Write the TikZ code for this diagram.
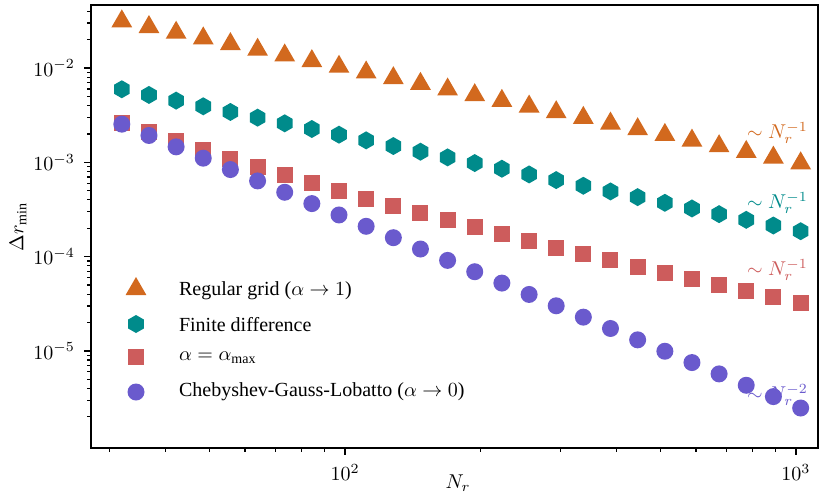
\documentclass[tikz,border=0pt]{standalone}
\usepackage{fontspec}
\setmainfont{Liberation Serif}
\usetikzlibrary{shapes.geometric}
\definecolor{chocolate}{HTML}{D2691E}
\definecolor{darkcyan}{HTML}{008B8B}
\definecolor{indianred}{HTML}{CD5C5C}
\definecolor{slateblue}{HTML}{6A5ACD}
\tikzset{
  tri/.style = {regular polygon, regular polygon sides=3, fill=chocolate, inner sep=0pt, minimum size=12pt},
  hex/.style = {regular polygon, regular polygon sides=6, shape border rotate=30, fill=darkcyan, inner sep=0pt, minimum size=9pt},
  sq/.style = {rectangle, fill=indianred, inner sep=0pt, minimum size=8pt},
  dot/.style = {circle, fill=slateblue, inner sep=0pt, minimum size=8.5pt},
  lbl/.style = {anchor=west, font=\fontsize{10}{12}\selectfont},
}
\begin{document}
\begin{tikzpicture}[x = .5pt, y = .5pt,
    declare function = {lg(\v) = ln(\v)/ln(10); px(\n) = 451*lg(\n) - 557; py(\l) = 615.6 + 94.3*\l;}]
    \useasboundingbox (0,0) rectangle (830,495);
    % data
    \foreach \k in {0,...,25} {
      \pgfmathsetmacro\N{32*2^(\k/5)}
      \pgfmathsetmacro\xx{px(\N)}
      \pgfmathsetmacro\ya{py(-lg(\N))}
      \pgfmathsetmacro\yb{py(lg(0.19) - lg(\N))}
      \pgfmathsetmacro\yc{py(lg(0.031*\N + 1.67) - 2*lg(\N))}
      \pgfmathsetmacro\yd{py(lg(2.6) - 2*lg(\N))}
      \node[tri] (a\k) at (\xx,\ya) {};
      \node[hex] (b\k) at (\xx,\yb) {};
      \node[sq] (c\k) at (\xx,\yc) {};
      \node[dot] (d\k) at (\xx,\yd) {};
    }
    % axes
    \draw[line width=0.8] (91,47) rectangle (818,490);
    \foreach \n in {30,40,...,90,200,300,...,900}
      \draw[line width=0.6] ({px(\n)},47) -- ++(0,-4);
    \foreach \n/\e in {100/2,1000/3} {
      \draw[line width=0.8] ({px(\n)},47) -- ++(0,-7);
      \node[anchor=north, font=\fontsize{10}{12}\selectfont] (x\e) at ({px(\n)},38) {$10^{\e}$};
    }
    \foreach \e in {-2,-3,-4,-5} {
      \draw[line width=0.8] (91,{py(\e)}) -- ++(-7,0);
      \node[anchor=east, font=\fontsize{10}{12}\selectfont] (y\e) at (82,{py(\e)}) {$10^{\e}$};
    }
    \foreach \e in {-2,-3,-4,-5,-6}
      \foreach \m in {2,...,9} {
        \pgfmathsetmacro\yy{py(\e + lg(\m))}
        \ifdim\yy pt>47pt \ifdim\yy pt<490pt
          \draw[line width=0.6] (91,\yy) -- ++(-4,0);
        \fi\fi
      }
    \node[font=\fontsize{10}{12}\selectfont] (xlab) at (458,12) {$N_r$};
    \node[rotate=90, font=\fontsize{10}{12}\selectfont] (ylab) at (18,268) {$\Delta r_{\min}$};
    % slopes
    \node[lbl, text=chocolate] (sa) at (740,362) {$\sim N_r^{-1}$};
    \node[lbl, text=darkcyan] (sb) at (740,292) {$\sim N_r^{-1}$};
    \node[lbl, text=indianred] (sc) at (740,225) {$\sim N_r^{-1}$};
    \node[lbl, text=slateblue] (sd) at (740,100) {$\sim N_r^{-2}$};
    % legend
    \node[tri] (la) at (136,206) {};
    \node[hex] (lb) at (136,171) {};
    \node[sq] (lc) at (136,138) {};
    \node[dot] (ld) at (136,103) {};
    \node[lbl] at (172,204) {Regular grid ($\alpha \to 1$)};
    \node[lbl] at (172,170) {Finite difference};
    \node[lbl] at (172,137) {$\alpha = \alpha_{\max}$};
    \node[lbl] at (172,103) {Chebyshev-Gauss-Lobatto ($\alpha \to 0$)};
  \end{tikzpicture}
\end{document}
